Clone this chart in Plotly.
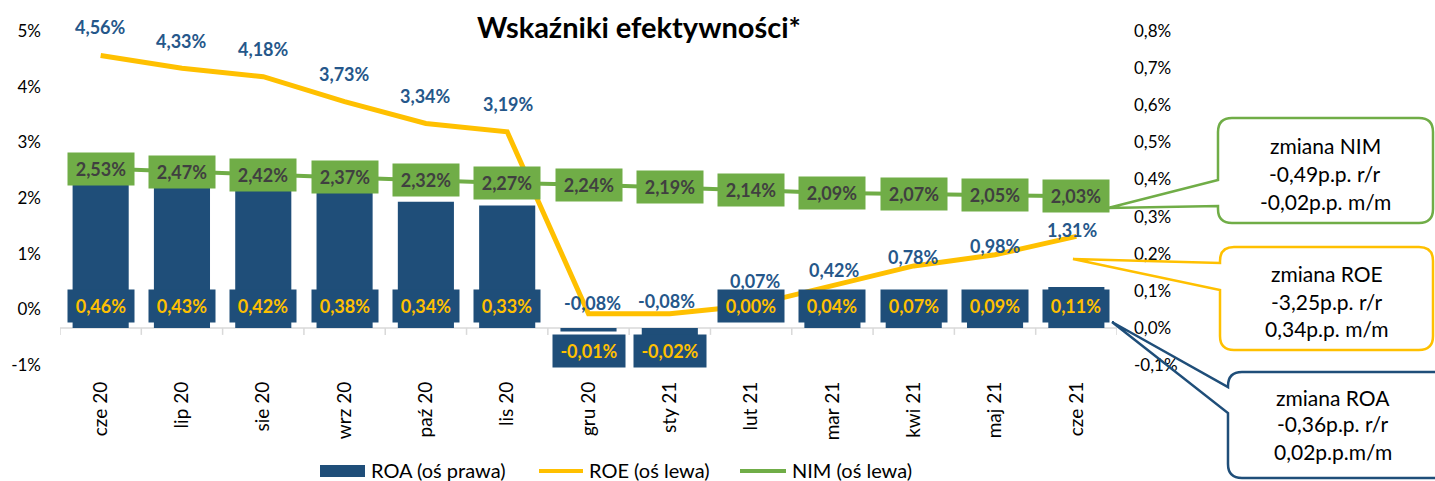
import plotly.graph_objects as go

# ---------------- data ----------------
categories = ["cze 20", "lip 20", "sie 20", "wrz 20", "paź 20", "lis 20", "gru 20",
              "sty 21", "lut 21", "mar 21", "kwi 21", "maj 21", "cze 21"]
roa = [0.46, 0.43, 0.42, 0.38, 0.34, 0.33, -0.01, -0.02, 0.00, 0.04, 0.07, 0.09, 0.11]
roe = [4.56, 4.33, 4.18, 3.73, 3.34, 3.19, -0.08, -0.08, 0.07, 0.42, 0.78, 0.98, 1.31]
nim = [2.53, 2.47, 2.42, 2.37, 2.32, 2.27, 2.24, 2.19, 2.14, 2.09, 2.07, 2.05, 2.03]

series_names = ["ROA (oś prawa)", "ROE (oś lewa)", "NIM (oś lewa)"]

left_tickvals = [-1, 0, 1, 2, 3, 4, 5]
left_ticktext = ["-1%", "0%", "1%", "2%", "3%", "4%", "5%"]
right_tickvals = [-0.1, 0.0, 0.1, 0.2, 0.3, 0.4, 0.5, 0.6, 0.7, 0.8]
right_ticktext = ["-0,1%", "0,0%", "0,1%", "0,2%", "0,3%", "0,4%", "0,5%", "0,6%", "0,7%", "0,8%"]

title_text = "Wskaźniki efektywności*"
callout_nim = ["zmiana NIM", "-0,49p.p. r/r", "-0,02p.p. m/m"]
callout_roe = ["zmiana ROE", "-3,25p.p. r/r", "0,34p.p. m/m"]
callout_roa = ["zmiana ROA", "-0,36p.p. r/r", "0,02p.p.m/m"]

# ---------------- style ----------------
C_ROA = "#1F4E79"
C_ROE = "#FFC000"
C_NIM = "#70AD47"
C_ROE_LBL = "#25578A"
C_NIM_TXT = "#404040"
FONT = "Lato"

W, H = 1435, 481
PL, PR, PT, PB = 60, 1117, 31, 365          # plot area in pixels
# manual offsets (px) of the ROE value labels relative to the line points
roe_label_dy = [28, 27, 28, 28, 27, 28, 11, 13, 24, 16, 9, 9, 6]
roe_label_dx = [0, 0, 0, 0, 0, 1, 4, -3, 4, 2, 0, 0, -4]


def fx(p):
    return (p - PL) / (PR - PL)


def fy(p):
    return (PB - p) / (PB - PT)


def fmt(v):
    return f"{v:.2f}".replace(".", ",") + "%"


fig = go.Figure()

fig.add_trace(go.Bar(
    x=categories, y=roa, name=series_names[0], yaxis="y",
    marker=dict(color=C_ROA, line=dict(width=0)), showlegend=False,
    hoverinfo="skip"))
fig.add_trace(go.Scatter(
    x=categories, y=roe, name=series_names[1], yaxis="y2", mode="lines",
    line=dict(color=C_ROE, width=5), showlegend=False, hoverinfo="skip"))
fig.add_trace(go.Scatter(
    x=categories, y=nim, name=series_names[2], yaxis="y2", mode="lines",
    line=dict(color=C_NIM, width=4), showlegend=False, hoverinfo="skip"))

annotations = []
# ROE labels
for i, (c, v) in enumerate(zip(categories, roe)):
    annotations.append(dict(
        x=c, y=v, xref="x", yref="y2", text=fmt(v), showarrow=False,
        yshift=roe_label_dy[i], xshift=roe_label_dx[i],
        font=dict(family=FONT, size=18, color=C_ROE_LBL, weight=700)))
# NIM labels (green boxes)
for c, v in zip(categories, nim):
    annotations.append(dict(
        x=c, y=v, xref="x", yref="y2", text=fmt(v), showarrow=False,
        bgcolor=C_NIM, width=62, height=28, borderpad=2, align="center",
        font=dict(family=FONT, size=18, color=C_NIM_TXT, weight=700)))
# ROA labels (dark boxes at the base of the bars)
for c, v in zip(categories, roa):
    t = fmt(v)
    annotations.append(dict(
        x=c, y=0, xref="x", yref="y", text=t, showarrow=False,
        yshift=22 if v >= 0 else -23,
        bgcolor=C_ROA, width=62 if v >= 0 else 68, height=28, borderpad=2,
        font=dict(family=FONT, size=18, color=C_ROE, weight=700)))

shapes = []
# category axis line at the secondary zero + tick marks
shapes.append(dict(type="line", xref="paper", yref="y", x0=0, x1=1, y0=0, y1=0,
                   line=dict(color="#D9D9D9", width=1.5), layer="below"))
for k in range(len(categories) + 1):
    shapes.append(dict(type="line", xref="x", yref="y", xsizemode="scaled",
                       ysizemode="pixel", yanchor=0, x0=k - 0.5, x1=k - 0.5,
                       y0=0, y1=-7, line=dict(color="#D9D9D9", width=1.5),
                       layer="below"))


def callout_path(L, T, R, B, wy1, wy2, tip, r=14):
    def P(x, y):
        return f"{fx(x):.5f},{fy(y):.5f}"
    d = (f"M{P(L + r, T)} L{P(R - r, T)} Q{P(R, T)} {P(R, T + r)} "
         f"L{P(R, B - r)} Q{P(R, B)} {P(R - r, B)} L{P(L + r, B)} "
         f"Q{P(L, B)} {P(L, B - r)} L{P(L, wy2)} L{P(tip[0], tip[1])} "
         f"L{P(L, wy1)} L{P(L, T + r)} Q{P(L, T)} {P(L + r, T)} Z")
    return d


callouts = [
    (C_NIM, (1218, 118, 1433, 223, 180, 206, (1108, 208)), callout_nim, 1325, [145, 173, 201]),
    (C_ROE, (1220, 247, 1433, 350, 263, 290, (1073, 259)), callout_roe, 1327, [273, 301, 328]),
    (C_ROA, (1228, 372, 1450, 478, 387, 413, (1112, 322)), callout_roa, 1333, [397, 424, 452]),
]
for col, geo, lines, cx, ys in callouts:
    shapes.append(dict(type="path", xref="paper", yref="paper",
                       path=callout_path(*geo[:6], geo[6]),
                       line=dict(color=col, width=2.5), fillcolor="rgba(0,0,0,0)",
                       layer="above"))
    for txt, yy in zip(lines, ys):
        annotations.append(dict(x=fx(cx), y=fy(yy), xref="paper", yref="paper",
                                text=txt, showarrow=False, xanchor="center",
                                yanchor="middle",
                                font=dict(family=FONT, size=21, color="#000000")))

# manual legend
leg_y = 470
shapes.append(dict(type="rect", xref="paper", yref="paper",
                   x0=fx(320), x1=fx(365), y0=fy(465), y1=fy(477),
                   fillcolor=C_ROA, line=dict(width=0)))
shapes.append(dict(type="line", xref="paper", yref="paper",
                   x0=fx(539), x1=fx(583), y0=fy(leg_y + 1), y1=fy(leg_y + 1),
                   line=dict(color=C_ROE, width=4)))
shapes.append(dict(type="line", xref="paper", yref="paper",
                   x0=fx(740), x1=fx(786), y0=fy(leg_y + 1), y1=fy(leg_y + 1),
                   line=dict(color=C_NIM, width=4)))
for name, px0 in zip(series_names, [369, 587, 790]):
    annotations.append(dict(x=fx(px0), y=fy(leg_y), xref="paper", yref="paper",
                            text=name, showarrow=False, xanchor="left",
                            yanchor="middle",
                            font=dict(family=FONT, size=20, color="#000000")))

fig.update_layout(
    width=W, height=H,
    margin=dict(l=PL, r=W - PR, t=PT, b=H - PB, pad=0),
    paper_bgcolor="white", plot_bgcolor="white",
    font=dict(family=FONT, size=17, color="#000000"),
    bargap=0.31,
    showlegend=False,
    title=dict(text=title_text, x=639 / W, xref="container", xanchor="center",
               y=1 - 28 / H, yref="container", yanchor="middle",
               font=dict(family=FONT, size=29, color="#000000", weight=700)),
    xaxis=dict(type="category", range=[-0.5, len(categories) - 0.5],
               showgrid=False, showline=False, zeroline=False, ticks="",
               tickangle=-90, ticklabelstandoff=12,
               tickfont=dict(family=FONT, size=19, color="#000000")),
    yaxis=dict(side="right", range=[-0.1, 0.8], tickvals=right_tickvals,
               ticktext=right_ticktext, showgrid=False, zeroline=False,
               showline=False, ticks="", ticklabelstandoff=16,
               tickfont=dict(family=FONT, size=17, color="#000000")),
    yaxis2=dict(side="left", overlaying="y", range=[-1, 5], tickvals=left_tickvals,
                ticktext=left_ticktext, showgrid=False, zeroline=False,
                showline=False, ticks="", ticklabelstandoff=18,
                tickfont=dict(family=FONT, size=17, color="#000000")),
    annotations=annotations,
    shapes=shapes,
)

fig.write_html("out.html", config={"displayModeBar": False},
               post_script="document.body.style.margin='0';")
